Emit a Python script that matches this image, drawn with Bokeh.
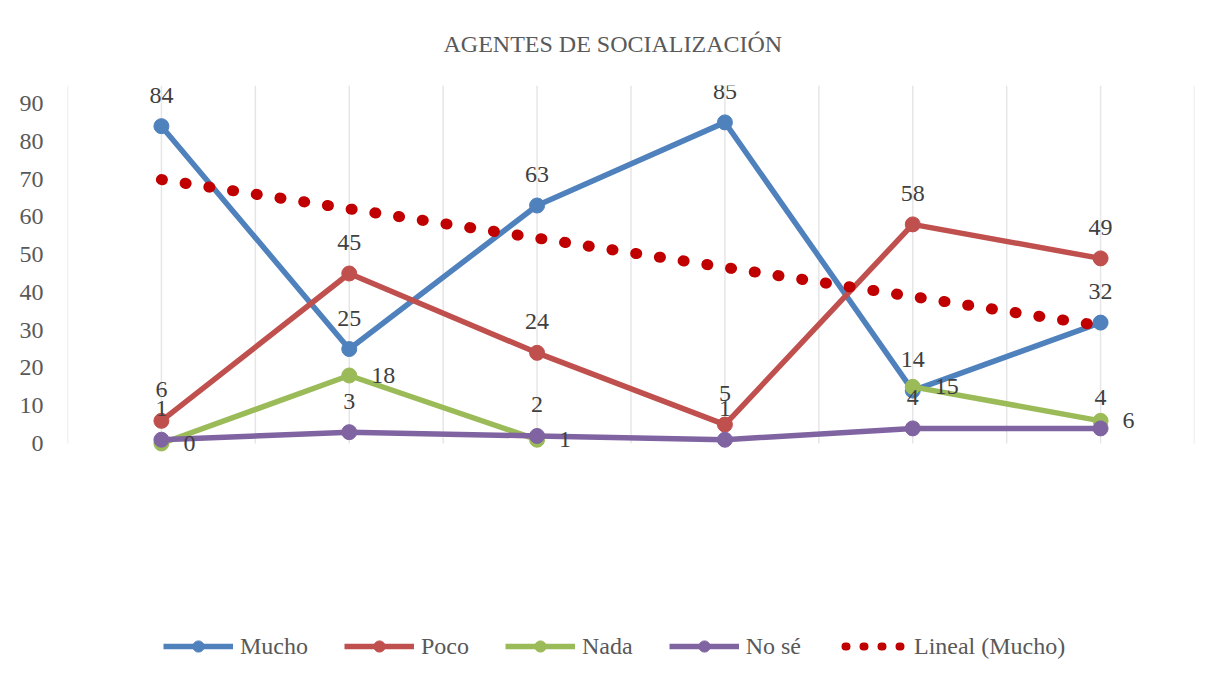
import numpy as np
from bokeh.plotting import figure
from bokeh.models import Range1d, FixedTicker, Legend, LegendItem
from bokeh.core.properties import value
from bokeh.embed import file_html
from bokeh.resources import INLINE

# ---- data ----
categories = [1, 2, 3, 4, 5, 6]          # category positions (labels are blank in the source)
mucho = [84, 25, 63, 85, 14, 32]
poco = [6, 45, 24, 5, 58, 49]
nada = [0, 18, 1, None, 15, 6]
no_se = [1, 3, 2, 1, 4, 4]
series_names = ["Mucho", "Poco", "Nada", "No sé"]
series_colors = ["#4F81BD", "#C0504D", "#9BBB59", "#8064A2"]
trend_label = "Lineal (Mucho)"
trend_color = "#C00000"
y_ticks = [0, 10, 20, 30, 40, 50, 60, 70, 80, 90]
title_text = "AGENTES DE SOCIALIZACIÓN"

FONT = "Liberation Serif"
LABEL_COLOR = "#404040"
AXIS_COLOR = "#595959"

# ---- geometry ----
W, H = 1198, 667
F_LEFT, F_RIGHT, F_TOP, F_BOTTOM = 67, 1194, 85, 662   # frame in px
Y0_PX = 443                                              # pixel row of value 0
PX_PER_UNIT = 340 / 90
y_top = (Y0_PX - F_TOP) / PX_PER_UNIT
y_bot = (Y0_PX - F_BOTTOM) / PX_PER_UNIT

p = figure(width=W, height=H,
           x_range=Range1d(0.5, 6.5), y_range=Range1d(y_bot, y_top),
           output_backend="svg", toolbar_location=None,
           min_border_left=F_LEFT, min_border_right=W - F_RIGHT,
           min_border_top=F_TOP, min_border_bottom=H - F_BOTTOM)

p.outline_line_color = None
p.background_fill_color = "white"
p.border_fill_color = "white"

# title
p.title.text = title_text
p.title.align = "left"
p.title.offset = 376
p.title.text_font = FONT
p.title.text_font_size = "24px"
p.title.text_font_style = "normal"
p.title.text_color = AXIS_COLOR
p.title.standoff = 57

# axes
p.xaxis.visible = False
p.yaxis.ticker = FixedTicker(ticks=y_ticks)
p.yaxis.axis_line_color = None
p.yaxis.major_tick_line_color = None
p.yaxis.minor_tick_line_color = None
p.yaxis.major_tick_out = 0
p.yaxis.major_label_standoff = 24
p.yaxis.major_label_text_font = FONT
p.yaxis.major_label_text_font_size = "24px"
p.yaxis.major_label_text_color = AXIS_COLOR

# grid: vertical lines at category centres and boundaries, from 0 to top
p.grid.visible = False
grid_pos = sorted([c - 0.5 for c in categories] + categories + [categories[-1] + 0.5])
p.segment(x0=grid_pos, y0=[0] * len(grid_pos), x1=grid_pos, y1=[y_top] * len(grid_pos),
          line_color="#E6E6E6", line_width=1.5)

all_series = [mucho, poco, nada, no_se]
legend_items = []
for name, data, col in zip(series_names, all_series, series_colors):
    ys = [np.nan if v is None else v for v in data]
    lr = p.line(categories, ys, line_color=col, line_width=5.5, line_join="round")
    sr = p.scatter(categories, ys, marker="circle", size=15, fill_color=col, line_color=col)
    legend_items.append(LegendItem(label=name, renderers=[lr, sr]))

# linear trend of "Mucho"
slope, intercept = np.polyfit(categories, mucho, 1)
tx = [categories[0], categories[-1]]
ty = [intercept + slope * tx[0], intercept + slope * tx[1]]
tr = p.line(tx, ty, line_color=trend_color, line_width=11, line_dash="1 23", line_cap="round")
# legend swatch for the trend (smaller dots, as in the source legend); draws nothing on the chart
tr_key = p.line([categories[0]], [np.nan], line_color=trend_color, line_width=8,
                line_dash="1 17", line_dash_offset=10, line_cap="round")
legend_items.append(LegendItem(label=trend_label, renderers=[tr_key]))

# data labels
for name, data in zip(series_names, all_series):
    xs = [c for c, v in zip(categories, data) if v is not None]
    vs = [v for v in data if v is not None]
    txt = [str(v) for v in vs]
    if name == "Nada":
        p.text(xs, vs, text=txt, x_offset=22, y_offset=0, text_align="left",
               text_baseline="middle", text_font=value(FONT), text_font_size="24px",
               text_color=LABEL_COLOR)
    else:
        p.text(xs, vs, text=txt, x_offset=0, y_offset=-31, text_align="center",
               text_baseline="middle", text_font=value(FONT), text_font_size="24px",
               text_color=LABEL_COLOR)

legend = Legend(items=legend_items, orientation="horizontal",
                location=(163 - F_LEFT, F_BOTTOM - 660),
                glyph_width=70, glyph_height=28, label_standoff=7, spacing=36,
                padding=0, margin=0, border_line_color=None, background_fill_alpha=0,
                label_text_font=FONT, label_text_font_size="24px",
                label_text_color=AXIS_COLOR)
p.add_layout(legend)

open("out.html", "w").write(file_html(p, INLINE))
